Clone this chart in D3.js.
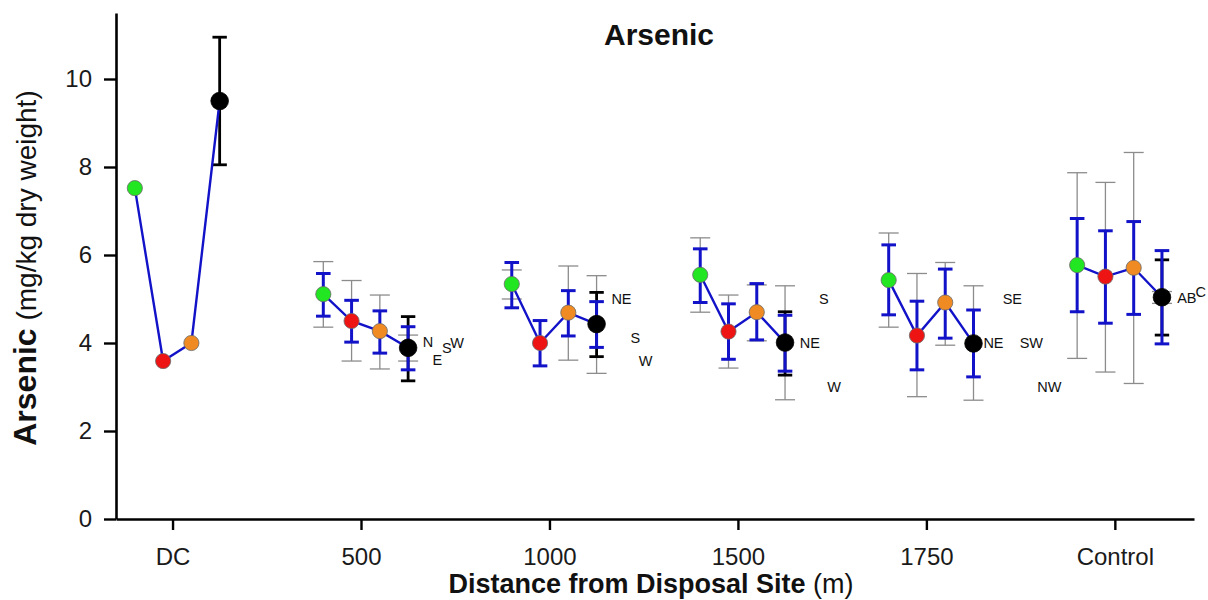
<!DOCTYPE html>
<html><head><meta charset="utf-8">
<script src="https://cdn.jsdelivr.net/npm/d3@7"></script>
<style>
body{margin:0;background:#fff}
text{font-family:"Liberation Sans",Arial,Helvetica,sans-serif}
</style>
</head><body>
<svg id="chart" width="1208" height="600"></svg>
<script>
// ---------- data ----------
const groups = ["DC", "500", "1000", "1500", "1750", "Control"];
const seriesNames = ["green", "red", "orange", "black"];
const yTicks = [0, 2, 4, 6, 8, 10];

const meanGreen  = [7.52, 5.11, 5.34, 5.55, 5.43, 5.77];
const meanRed    = [3.59, 4.50, 4.00, 4.26, 4.17, 5.51];
const meanOrange = [4.00, 4.27, 4.69, 4.70, 4.92, 5.71];
const meanBlack  = [9.50, 3.89, 4.43, 4.01, 3.99, 5.04];

// blue error bars (upper / lower)
const blueHiGreen  = [null, 5.58, 5.83, 6.14, 6.23, 6.83];
const blueLoGreen  = [null, 4.61, 4.80, 4.92, 4.64, 4.71];
const blueHiRed    = [null, 4.97, 4.51, 4.89, 4.95, 6.55];
const blueLoRed    = [null, 4.02, 3.48, 3.63, 3.39, 4.45];
const blueHiOrange = [null, 4.73, 5.19, 5.35, 5.68, 6.76];
const blueLoOrange = [null, 3.77, 4.16, 4.07, 4.11, 4.65];
const blueHiBlack  = [null, 4.37, 4.94, 4.63, 4.75, 6.10];
const blueLoBlack  = [null, 3.39, 3.90, 3.36, 3.23, 3.98];

// grey error bars (upper / lower)
const greyHiGreen  = [null, 5.85, 5.66, 6.39, 6.50, 7.87];
const greyLoGreen  = [null, 4.36, 5.00, 4.70, 4.36, 3.65];
const greyHiRed    = [null, 5.42, null, 5.09, 5.58, 7.65];
const greyLoRed    = [null, 3.59, null, 3.43, 2.78, 3.34];
const greyHiOrange = [null, 5.09, 5.75, 5.32, 5.83, 8.33];
const greyLoOrange = [null, 3.41, 3.61, 4.05, 3.95, 3.08];
const greyHiBlack  = [null, 4.18, 5.53, 5.30, 5.30, 5.17];
const greyLoBlack  = [null, 3.59, 3.31, 2.71, 2.70, 4.90];

// black error bars (black series only)
const blackHi = [10.95, 4.60, 5.15, 4.71, null, 5.89];
const blackLo = [8.05, 3.14, 3.69, 3.27, null, 4.18];

// text annotations next to the groups
const noteText   = ["N", "E", "S", "W", "NE", "S", "W", "NE", "S", "W", "NE", "SE", "SW", "NW", "AB", "C"];
const noteGroup  = [1, 1, 1, 1, 2, 2, 2, 3, 3, 3, 4, 4, 4, 4, 5, 5];
const noteOffset = [0.356, 0.405, 0.456, 0.51, 0.382, 0.456, 0.51, 0.382, 0.456, 0.51, 0.356, 0.456, 0.557, 0.653, 0.382, 0.456];
const noteValue  = [4.02, 3.61, 3.89, 4.00, 5.00, 4.11, 3.59, 4.00, 5.00, 3.00, 4.00, 5.00, 4.00, 3.00, 5.02, 5.16];

// ---------- setup ----------
const means = [meanGreen, meanRed, meanOrange, meanBlack];
const blueHi = [blueHiGreen, blueHiRed, blueHiOrange, blueHiBlack];
const blueLo = [blueLoGreen, blueLoRed, blueLoOrange, blueLoBlack];
const greyHi = [greyHiGreen, greyHiRed, greyHiOrange, greyHiBlack];
const greyLo = [greyLoGreen, greyLoRed, greyLoOrange, greyLoBlack];
const fills = ["#22e622", "#ee1414", "#f08a22", "#000000"];
const radius = [7.6, 7.6, 7.6, 8.8];
const seriesShift = [-0.2, -0.05, 0.1, 0.25];
const BLUE = "#1212c8";

const svg = d3.select("#chart");
const x = d3.scaleLinear().domain([-0.3, 5.42]).range([116, 1194]);
const y = d3.scaleLinear().domain([0, 11.5]).range([519, 13]);
const px = (g, s) => x(g + seriesShift[s]);

// axes
const xAxis = svg.append("g").attr("transform", "translate(0,519)")
  .call(d3.axisBottom(x).tickValues(d3.range(groups.length)).tickFormat(i => groups[i])
    .tickSize(11).tickSizeOuter(0).tickPadding(18));
const yAxis = svg.append("g").attr("transform", "translate(116,0)")
  .call(d3.axisLeft(y).tickValues(yTicks).tickSize(12).tickSizeOuter(0).tickPadding(12));
[xAxis, yAxis].forEach(a => {
  a.select(".domain").attr("stroke", "#000").attr("stroke-width", 2.6);
  a.selectAll(".tick line").attr("stroke", "#000").attr("stroke-width", 2.4);
  a.selectAll(".tick text").attr("font-size", 24).attr("fill", "#1a1a1a")
    .style("font-family", '"Liberation Sans",Arial,sans-serif');
});

// error bar helper
function errBar(g, cx, hi, lo, half, color, width) {
  if (hi == null || lo == null) return;
  g.append("line").attr("x1", cx).attr("x2", cx).attr("y1", y(hi)).attr("y2", y(lo))
    .attr("stroke", color).attr("stroke-width", width);
  [hi, lo].forEach(v => g.append("line").attr("x1", cx - half).attr("x2", cx + half)
    .attr("y1", y(v)).attr("y2", y(v)).attr("stroke", color).attr("stroke-width", width));
}

const gErr = svg.append("g");
groups.forEach((_, gi) => {
  seriesNames.forEach((_, s) => {
    errBar(gErr, px(gi, s), greyHi[s][gi], greyLo[s][gi], 10, "#8c8c8c", 1.3);
  });
  errBar(gErr, px(gi, 3), blackHi[gi], blackLo[gi], 7.2, "#000", 2.8);
  seriesNames.forEach((_, s) => {
    errBar(gErr, px(gi, s), blueHi[s][gi], blueLo[s][gi], 7.3, BLUE, 3);
  });
});

// connecting lines within each group
const line = d3.line().x(d => d[0]).y(d => d[1]);
groups.forEach((_, gi) => {
  const pts = seriesNames.map((_, s) => [px(gi, s), y(means[s][gi])]);
  svg.append("path").attr("d", line(pts)).attr("fill", "none")
    .attr("stroke", BLUE).attr("stroke-width", 2.4);
});

// points
groups.forEach((_, gi) => {
  seriesNames.forEach((_, s) => {
    svg.append("circle").attr("cx", px(gi, s)).attr("cy", y(means[s][gi]))
      .attr("r", radius[s]).attr("fill", fills[s])
      .attr("stroke", s === 3 ? "#000" : "#6a6a6a").attr("stroke-width", 0.8);
  });
});

// annotations
noteText.forEach((t, i) => {
  svg.append("text").attr("x", x(noteGroup[i] + noteOffset[i])).attr("y", y(noteValue[i]))
    .attr("text-anchor", "middle").attr("dominant-baseline", "central")
    .attr("font-size", 14.5).attr("fill", "#111").text(t);
});

// title
svg.append("text").attr("x", 659).attr("y", 45).attr("text-anchor", "middle")
  .attr("font-size", 30).attr("font-weight", "bold").attr("fill", "#111").text("Arsenic");

// y label
const yl = svg.append("text").attr("transform", "translate(36,268) rotate(-90)")
  .attr("text-anchor", "middle").attr("fill", "#111");
yl.append("tspan").attr("font-size", 32).attr("font-weight", "bold").text("Arsenic");
yl.append("tspan").attr("font-size", 28).text(" (mg/kg dry weight)");

// x label
const xl = svg.append("text").attr("x", 651).attr("y", 593).attr("text-anchor", "middle").attr("fill", "#111");
xl.append("tspan").attr("font-size", 27).attr("font-weight", "bold").text("Distance from Disposal Site");
xl.append("tspan").attr("font-size", 27).text(" (m)");
</script>
</body></html>
